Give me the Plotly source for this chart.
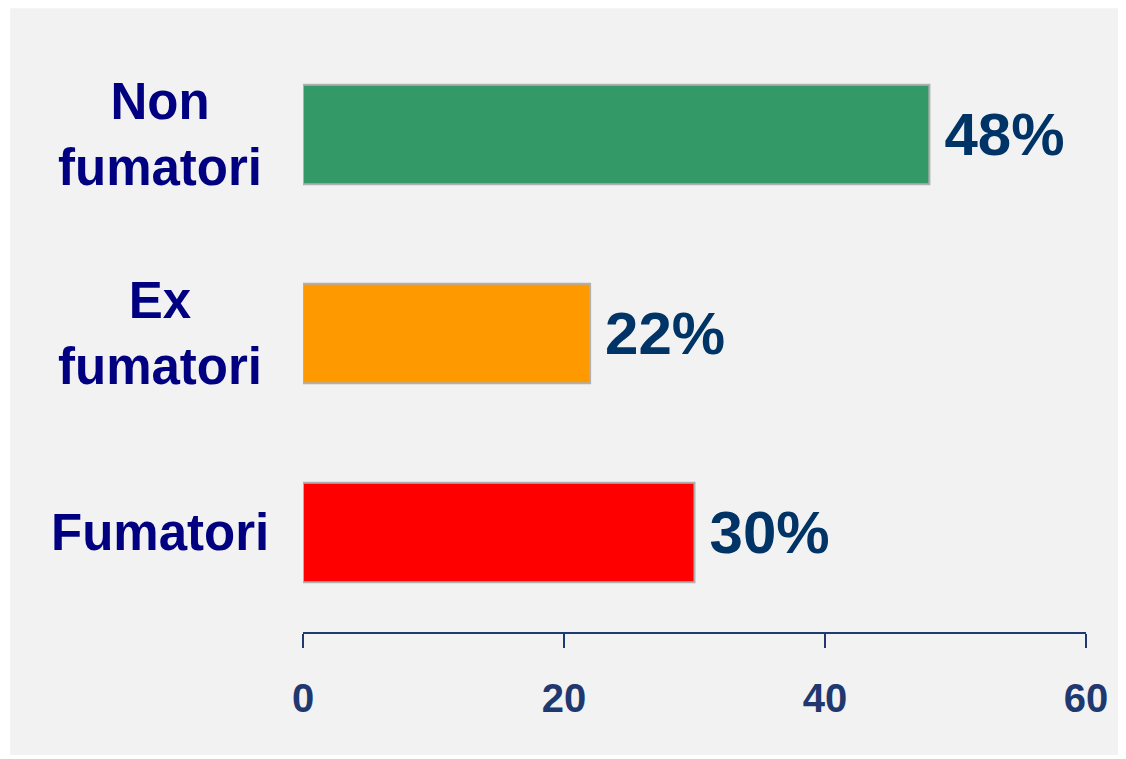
import plotly.graph_objects as go

categories = ["Fumatori", "Ex<br>fumatori", "Non<br>fumatori"]
values = [30, 22, 48]
value_labels = ["30%", "22%", "48%"]
bar_colors = ["#FF0000", "#FF9900", "#339966"]
tick_vals = [0, 20, 40, 60]

fig = go.Figure()
fig.add_trace(go.Bar(
    y=categories, x=values, orientation="h",
    marker=dict(color=bar_colors, line=dict(color="#B0B0B0", width=2)),
    width=0.5,
    text=["\u2009" + t for t in value_labels], textposition="outside", cliponaxis=False,
    constraintext="none",
    textfont=dict(family="Liberation Sans, Arial", size=60, color="#003366", weight="bold"),
    hoverinfo="skip",
))

for c in categories:
    fig.add_annotation(
        x=-0.183, xref="paper", y=c, yref="y",
        text="<b>" + c + "</b>", showarrow=False, xanchor="center", align="center",
        font=dict(family="Liberation Sans, Arial", size=51, color="#000080"),
    )

fig.add_shape(type="rect", xref="paper", yref="paper",
              x0=-0.374, x1=1.2, y0=-0.206, y1=1.045,
              fillcolor="#F2F2F2", line=dict(width=0), layer="below")

fig.update_layout(
    width=1118, height=751,
    margin=dict(l=295, r=40, t=27, b=127),
    paper_bgcolor="white", plot_bgcolor="rgba(0,0,0,0)",
    showlegend=False,
    xaxis=dict(range=[0, 60], tickvals=tick_vals, showgrid=False, zeroline=False,
               showline=True, linecolor="#1F3A70", linewidth=2,
               ticks="outside", ticklen=14, tickwidth=2, tickcolor="#1F3A70",
               tickfont=dict(family="Liberation Sans, Arial", size=40, color="#1F3870", weight="bold"),
               ticklabelstandoff=16, fixedrange=True),
    yaxis=dict(range=[-0.5, 2.5], showticklabels=False, showgrid=False, zeroline=False,
               showline=False, ticks="", fixedrange=True),
)

fig.write_html("out.html")
